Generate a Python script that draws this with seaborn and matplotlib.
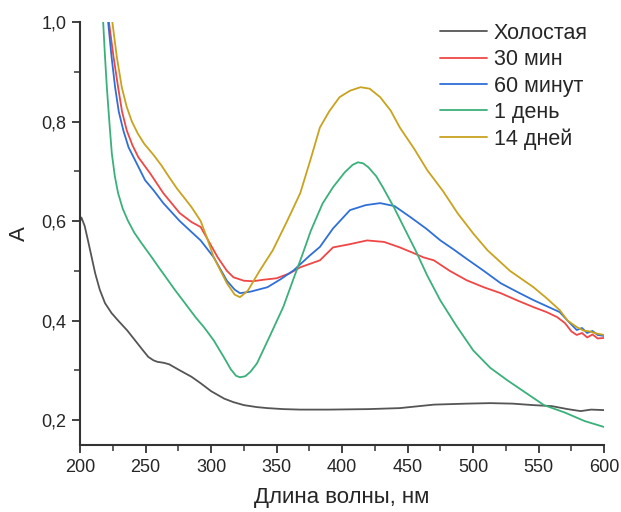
import numpy as np
import pandas as pd
import matplotlib
matplotlib.use("Agg")
import matplotlib.pyplot as plt
import seaborn as sns
from matplotlib.ticker import FuncFormatter, MultipleLocator

sns.set_theme(style="ticks")
plt.rcParams['font.family'] = ['Liberation Sans', 'DejaVu Sans']

# Data (wavelength nm, absorbance)
blank_x = [200, 201, 203.5, 206, 209, 211.5, 215, 219, 224, 229, 236, 242, 248, 252, 256, 259, 264, 268, 276, 285, 292, 300, 310, 317, 325, 335, 343, 355, 368, 390, 420, 444, 470, 495, 513, 530, 546, 560, 572, 582, 590, 600]
blank_y = [0.60, 0.607, 0.59, 0.561, 0.525, 0.495, 0.462, 0.435, 0.415, 0.40, 0.38, 0.36, 0.34, 0.327, 0.32, 0.317, 0.315, 0.312, 0.30, 0.287, 0.274, 0.258, 0.243, 0.236, 0.230, 0.226, 0.224, 0.222, 0.221, 0.221, 0.222, 0.224, 0.231, 0.233, 0.234, 0.233, 0.230, 0.228, 0.222, 0.218, 0.221, 0.220]

m30_x = [219, 222, 225.5, 229, 232, 235.6, 240, 244.5, 253.4, 263.5, 276, 285, 292, 298, 305, 312, 317, 325, 332, 340, 350, 360, 368, 383, 393, 405, 419, 432, 444, 455, 462, 470, 482, 495, 508, 521, 534, 546, 556, 564, 570, 575, 579, 583, 587, 591, 595, 600]
m30_y = [1.08, 1.0, 0.93, 0.869, 0.82, 0.782, 0.752, 0.728, 0.696, 0.656, 0.616, 0.598, 0.588, 0.56, 0.527, 0.50, 0.487, 0.480, 0.479, 0.482, 0.485, 0.495, 0.507, 0.521, 0.547, 0.553, 0.561, 0.558, 0.547, 0.535, 0.527, 0.521, 0.500, 0.481, 0.467, 0.455, 0.440, 0.427, 0.417, 0.407, 0.395, 0.378, 0.371, 0.375, 0.366, 0.372, 0.364, 0.365]

m60_x = [218.5, 221.4, 224, 226.7, 229.5, 233, 237, 242, 249.6, 256, 263.5, 276, 285, 292, 302, 312, 318, 322, 330, 343, 353, 363, 375, 383, 393, 406, 418, 429, 440, 452, 464, 475, 485, 495, 508, 521, 534, 546, 556, 566, 572, 579, 583, 587, 591, 595, 600]
m60_y = [1.08, 1.0, 0.93, 0.869, 0.82, 0.782, 0.748, 0.722, 0.682, 0.662, 0.636, 0.60, 0.578, 0.561, 0.527, 0.48, 0.462, 0.455, 0.458, 0.467, 0.483, 0.501, 0.53, 0.548, 0.585, 0.622, 0.632, 0.636, 0.630, 0.608, 0.585, 0.561, 0.543, 0.524, 0.500, 0.475, 0.457, 0.441, 0.429, 0.417, 0.40, 0.381, 0.385, 0.375, 0.379, 0.371, 0.369]

d1_x = [215.5, 217.6, 219, 220.4, 222.3, 224.2, 226.5, 229, 232.5, 236.6, 241.5, 247, 254.7, 260, 266, 272.5, 280, 288, 295, 302, 310, 315, 319, 322, 326, 330, 335, 345, 355, 363, 370, 376, 385, 393, 402, 408, 412, 416, 420, 426, 431, 440, 447, 456, 465, 475, 487, 500, 513, 526, 540, 554, 570, 585, 600]
d1_y = [1.08, 1.0, 0.93, 0.869, 0.80, 0.736, 0.69, 0.656, 0.625, 0.60, 0.576, 0.555, 0.527, 0.507, 0.485, 0.461, 0.435, 0.407, 0.385, 0.36, 0.325, 0.302, 0.289, 0.286, 0.288, 0.297, 0.314, 0.37, 0.427, 0.485, 0.535, 0.58, 0.635, 0.668, 0.698, 0.713, 0.718, 0.716, 0.708, 0.69, 0.668, 0.625, 0.588, 0.541, 0.49, 0.44, 0.39, 0.34, 0.305, 0.28, 0.255, 0.23, 0.215, 0.198, 0.186]

d14_x = [223.5, 224.6, 228, 231.8, 235.5, 239.5, 244, 249, 256, 262, 268, 274, 280, 285, 292, 297, 302, 312, 318, 322, 328, 337, 347, 358, 368, 376, 383, 390, 398, 406, 414, 421, 429, 437, 444, 455, 465, 477, 488, 500, 511, 528, 546, 556, 566, 572, 579, 584, 589, 594, 600]
d14_y = [1.04, 1.0, 0.93, 0.869, 0.83, 0.80, 0.776, 0.755, 0.733, 0.712, 0.688, 0.665, 0.645, 0.628, 0.60, 0.565, 0.527, 0.475, 0.452, 0.447, 0.46, 0.50, 0.541, 0.60, 0.656, 0.725, 0.788, 0.82, 0.849, 0.862, 0.869, 0.866, 0.849, 0.822, 0.788, 0.745, 0.702, 0.66, 0.616, 0.575, 0.541, 0.50, 0.467, 0.445, 0.421, 0.40, 0.387, 0.38, 0.378, 0.374, 0.371]

labels = ["Холостая", "30 мин", "60 минут", "1 день", "14 дней"]
colors = ["#555555", "#f04646", "#2f6fd8", "#3ab07a", "#c9a21e"]
xy = [(blank_x, blank_y), (m30_x, m30_y), (m60_x, m60_y), (d1_x, d1_y), (d14_x, d14_y)]

frames = []
for lab, (xs, ys) in zip(labels, xy):
    frames.append(pd.DataFrame({"x": xs, "y": ys, "s": lab}))
df = pd.concat(frames, ignore_index=True)

fig = plt.figure(figsize=(6.21, 5.12), dpi=100)
ax = fig.add_axes([0.129, 0.131, 0.844, 0.826])
sns.lineplot(data=df, x="x", y="y", hue="s", palette=dict(zip(labels, colors)),
             sort=False, estimator=None, linewidth=1.3, ax=ax)

ax.set_xlim(200, 600)
ax.set_ylim(0.15, 1.0)
ax.xaxis.set_major_locator(MultipleLocator(50))
ax.xaxis.set_minor_locator(MultipleLocator(25))
ax.yaxis.set_major_locator(MultipleLocator(0.2))
ax.yaxis.set_minor_locator(MultipleLocator(0.1))
ax.yaxis.set_major_formatter(FuncFormatter(lambda v, p: f"{v:.1f}".replace(".", ",")))
for s in ["top", "right"]:
    ax.spines[s].set_visible(False)
for s in ["left", "bottom"]:
    ax.spines[s].set_linewidth(1.5)
    ax.spines[s].set_color("#333333")
ax.tick_params(which="major", direction="out", length=6, width=1.3, labelsize=13, color="#333333", pad=4)
ax.tick_params(which="minor", direction="out", length=4, width=1.1, color="#333333")
ax.set_xlabel("Длина волны, нм", fontsize=16, labelpad=8)
ax.set_ylabel("A", fontsize=16, labelpad=8)

leg = ax.legend(loc="upper right", frameon=False, fontsize=15.5, handlelength=2.2,
                handletextpad=0.3, labelspacing=0.245, borderaxespad=0.0,
                bbox_to_anchor=(0.985, 1.018))
for line in leg.get_lines():
    line.set_linewidth(1.3)

fig.savefig("out.png", dpi=100)
